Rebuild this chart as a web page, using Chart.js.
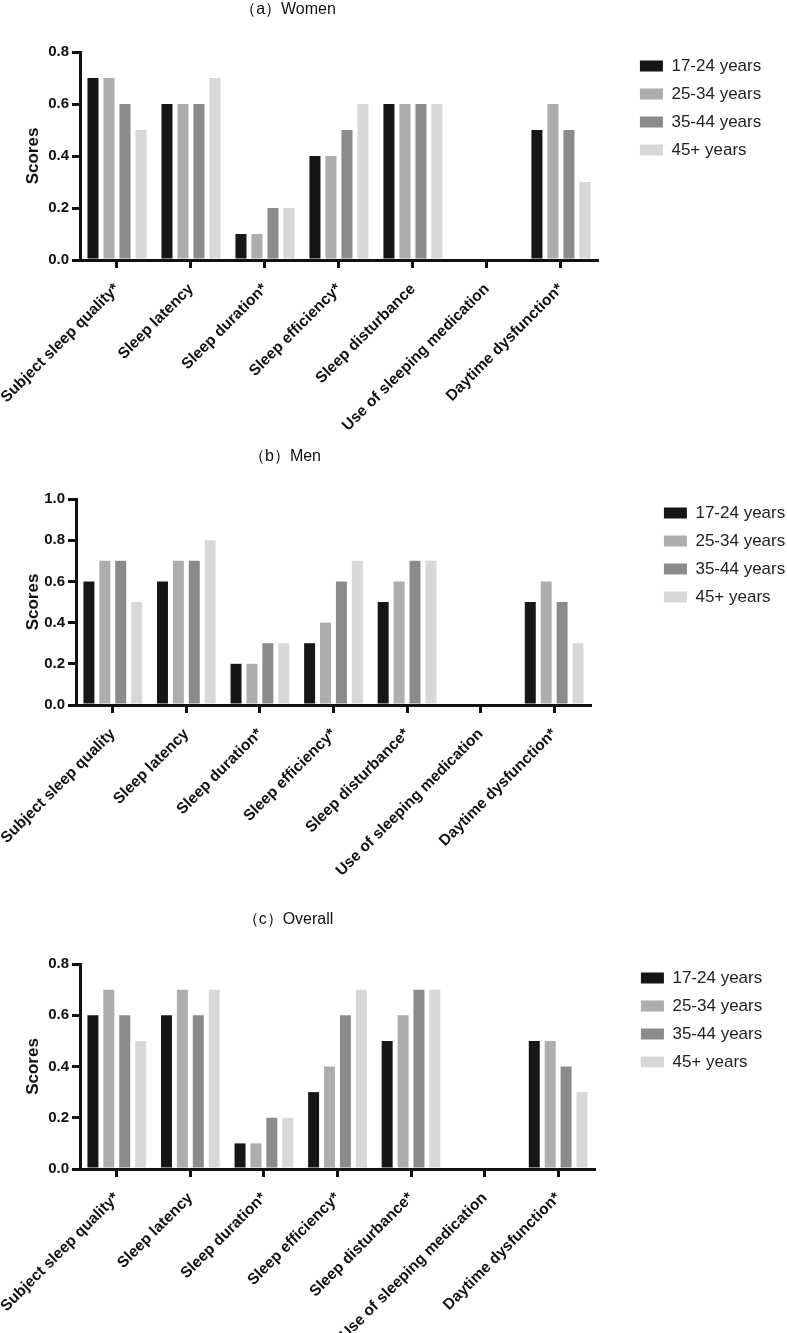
<!DOCTYPE html>
<html>
<head>
<meta charset="utf-8">
<script src="https://cdn.jsdelivr.net/npm/chart.js@4.4.1/dist/chart.umd.min.js"></script>
<style>
  html, body { margin: 0; padding: 0; background: #fff; }
  body { width: 787px; height: 1333px; position: relative; overflow: hidden; font-family: 'Liberation Sans', Arial, sans-serif; }
  canvas { position: absolute; left: 0; }
  .panel-title { position: absolute; font-size: 16px; color: #111; transform: translate(-50%, -50%); white-space: nowrap; }
</style>
</head>
<body>
<canvas id="chartWomen" width="787" height="430" style="top:0px"></canvas>
<canvas id="chartMen" width="787" height="455" style="top:430px"></canvas>
<canvas id="chartOverall" width="787" height="448" style="top:885px"></canvas>
<div class="panel-title" style="left:288px; top:9px;">（a）Women</div>
<div class="panel-title" style="left:285px; top:456px;">（b）Men</div>
<div class="panel-title" style="left:288px; top:919px;">（c）Overall</div>

<script>
// age groups (legend)
const ageGroups = ['17-24 years', '25-34 years', '35-44 years', '45+ years'];

// (a) Women
const womenCategories = ['Subject sleep quality*', 'Sleep latency', 'Sleep duration*', 'Sleep efficiency*',
    'Sleep disturbance', 'Use of sleeping medication', 'Daytime dysfunction*'];
const women17to24 = [0.7, 0.6, 0.1, 0.4, 0.6, 0, 0.5];
const women25to34 = [0.7, 0.6, 0.1, 0.4, 0.6, 0, 0.6];
const women35to44 = [0.6, 0.6, 0.2, 0.5, 0.6, 0, 0.5];
const women45plus = [0.5, 0.7, 0.2, 0.6, 0.6, 0, 0.3];

// (b) Men
const menCategories = ['Subject sleep quality', 'Sleep latency', 'Sleep duration*', 'Sleep efficiency*',
    'Sleep disturbance*', 'Use of sleeping medication', 'Daytime dysfunction*'];
const men17to24 = [0.6, 0.6, 0.2, 0.3, 0.5, 0, 0.5];
const men25to34 = [0.7, 0.7, 0.2, 0.4, 0.6, 0, 0.6];
const men35to44 = [0.7, 0.7, 0.3, 0.6, 0.7, 0, 0.5];
const men45plus = [0.5, 0.8, 0.3, 0.7, 0.7, 0, 0.3];

// (c) Overall
const overallCategories = ['Subject sleep quality*', 'Sleep latency', 'Sleep duration*', 'Sleep efficiency*',
    'Sleep disturbance*', 'Use of sleeping medication', 'Daytime dysfunction*'];
const overall17to24 = [0.6, 0.6, 0.1, 0.3, 0.5, 0, 0.5];
const overall25to34 = [0.7, 0.7, 0.1, 0.4, 0.6, 0, 0.5];
const overall35to44 = [0.6, 0.6, 0.2, 0.6, 0.7, 0, 0.4];
const overall45plus = [0.5, 0.7, 0.2, 0.7, 0.7, 0, 0.3];

const ageColors = ['#161616', '#adadad', '#8b8b8b', '#d8d8d8'];
const ink = '#111';

Chart.defaults.font.family = "'Liberation Sans', Arial, sans-serif";
Chart.defaults.color = ink;

function drawPanel(id, categories, series, yMax, fit) {
    const ctx = document.getElementById(id).getContext('2d');

    return new Chart(ctx, {
        type: 'bar',
        data: {
            labels: categories,
            datasets: series.map((values, i) => ({
                label: ageGroups[i],
                data: values,
                backgroundColor: ageColors[i],
                borderWidth: 0,
                categoryPercentage: 0.865,
                barPercentage: 0.69,
                yAxisID: 'y'
            }))
        },
        options: {
            responsive: false,
            animation: false,
            layout: { padding: { top: fit.top, right: fit.right, bottom: 0, left: 0 } },
            plugins: {
                legend: {
                    position: 'right',
                    align: 'start',
                    maxWidth: 200,
                    labels: { boxWidth: 23, boxHeight: 11, padding: 11, color: '#222', font: { size: 17 } }
                },
                // empty subtitle only pushes the plot a bit below the legend top
                subtitle: { display: true, text: '', padding: 0, font: { size: 5.5, lineHeight: 1 } },
                tooltip: { enabled: false }
            },
            scales: {
                x: {
                    ticks: {
                        autoSkip: false, maxRotation: 45, minRotation: 45, padding: 12,
                        color: ink, font: { size: 15.5, weight: 'bold' }
                    },
                    grid: {
                        offset: false, drawOnChartArea: false, tickLength: 8,
                        tickWidth: 3, tickColor: ink, lineWidth: 3, color: ink
                    },
                    border: { display: true, width: 3, color: ink, z: 1 },
                    afterFit: s => {
                        s.height = fit.xHeight;
                        // long rotated labels may run past the left edge, like the original
                        s.paddingLeft = 0;
                        s.paddingRight = 0;
                    }
                },
                y: {
                    min: 0,
                    max: yMax,
                    ticks: {
                        stepSize: 0.2, padding: 3, color: ink,
                        font: { size: 15, weight: 'bold' },
                        callback: v => v.toFixed(1)
                    },
                    grid: {
                        drawOnChartArea: false, tickLength: 8,
                        tickWidth: 3, tickColor: ink, lineWidth: 3, color: ink
                    },
                    border: { display: true, width: 3, color: ink, z: 1 },
                    title: {
                        display: true, text: 'Scores', color: ink,
                        font: { size: 17, weight: 'bold' },
                        padding: { top: 23, bottom: 0 }
                    },
                    afterFit: s => { s.width = fit.yWidth; }
                },
                // blank axis = gap between plot and legend
                gap: {
                    type: 'linear',
                    position: 'right',
                    display: true,
                    ticks: { display: false },
                    grid: { display: false },
                    border: { display: false },
                    afterFit: s => { s.width = fit.gap; }
                }
            }
        }
    });
}

drawPanel('chartWomen', womenCategories,
    [women17to24, women25to34, women35to44, women45plus], 0.8,
    { top: 46.5, right: 15.8, xHeight: 170, yWidth: 80, gap: 31 });

drawPanel('chartMen', menCategories,
    [men17to24, men25to34, men35to44, men45plus], 1.0,
    { top: 63.5, right: -8.2, xHeight: 180, yWidth: 76, gap: 62 });

drawPanel('chartOverall', overallCategories,
    [overall17to24, overall25to34, overall35to44, overall45plus], 0.8,
    { top: 73.5, right: 14.8, xHeight: 164, yWidth: 80, gap: 35 });
</script>
</body>
</html>
